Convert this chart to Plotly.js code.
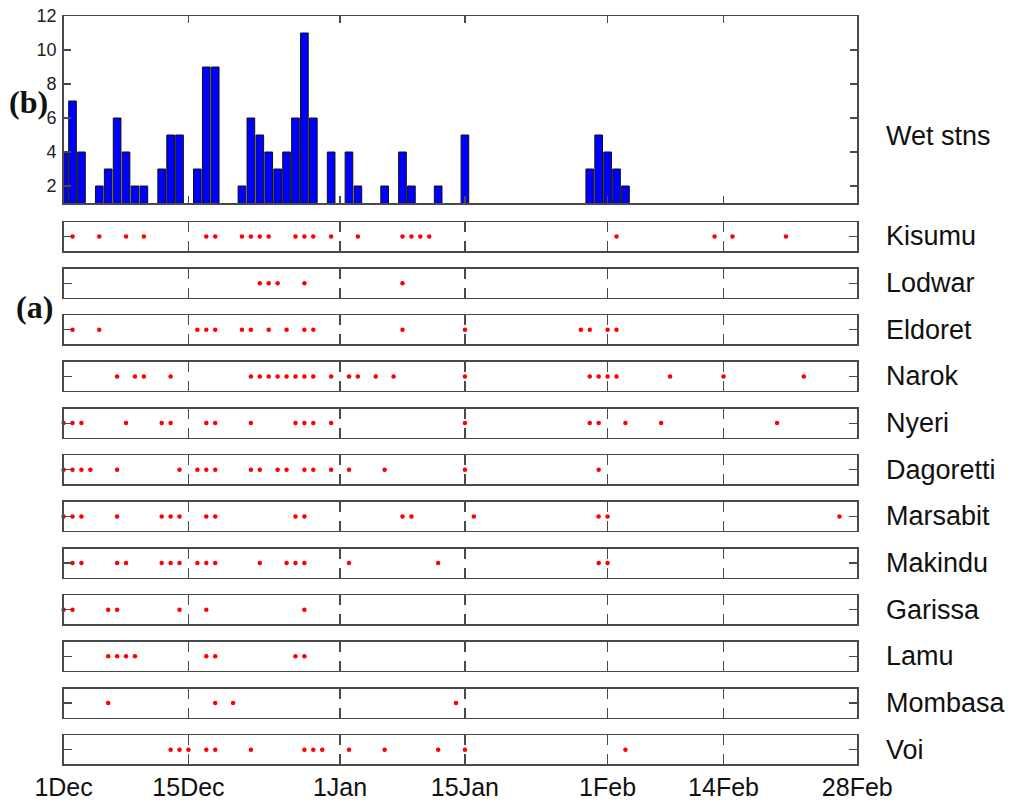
<!DOCTYPE html>
<html><head><meta charset="utf-8">
<script src="https://cdn.plot.ly/plotly-3.0.1.min.js"></script>
<style>html,body{margin:0;padding:0;background:#fff}</style>
</head><body><div id="chart" style="width:1010px;height:805px"></div>
<script>
// Day index: 1 = 1 Dec ... 90 = 28 Feb
const tickDays   = [1, 15, 32, 46, 62, 75, 90];
const tickLabels = ['1Dec', '15Dec', '1Jan', '15Jan', '1Feb', '14Feb', '28Feb'];

// (b) number of wet stations per day (days 1..90)
const wetStns = [4,7,4,1,2,3,6,4,2,2, 0,3,5,5,1,3,9,9,0,1,
                 2,6,5,4,3,4,6,11,6,1, 4,0,4,2,0,1,2,1,4,2,
                 1,1,2,0,1,5,1,0,0,0, 0,0,0,0,0,0,0,0,1,3,
                 5,4,3,2,0,0,0,1,1,0, 0,0,0,1,1,1,0,0,0,0,
                 1,1,0,1,0,0,0,1,0,0];

// (a) wet days per station (day index)
const stations = ['Kisumu','Lodwar','Eldoret','Narok','Nyeri','Dagoretti',
                  'Marsabit','Makindu','Garissa','Lamu','Mombasa','Voi'];
const kisumu    = [2,5,8,10,17,18,21,22,23,24,27,28,29,31,34,39,40,41,42,63,74,76,82];
const lodwar    = [23,24,25,28,39];
const eldoret   = [2,5,16,17,18,21,22,24,26,28,29,39,46,59,60,62,63];
const narok     = [7,9,10,13,22,23,24,25,26,27,28,29,31,33,34,36,38,46,60,61,62,63,69,75,84];
const nyeri     = [1,2,3,8,12,13,17,18,22,27,28,29,31,46,60,61,64,68,81];
const dagoretti = [1,2,3,4,7,14,16,17,18,22,23,25,26,28,29,31,33,37,46,61];
const marsabit  = [1,2,3,7,12,13,14,17,18,27,28,39,40,47,61,62,88];
const makindu   = [2,3,7,8,12,13,14,16,17,18,23,26,27,28,33,43,61,62];
const garissa   = [1,2,6,7,14,17,28];
const lamu      = [6,7,8,9,17,18,27,28];
const mombasa   = [6,18,20,45];
const voi       = [13,14,15,17,18,22,28,29,30,33,37,43,46,64];
const stationDays = [kisumu,lodwar,eldoret,narok,nyeri,dagoretti,marsabit,makindu,garissa,lamu,mombasa,voi];

const W = 1010, H = 805;
const xDom = [63.6 / W, 857.3 / W];
const yd = (top, bot) => [1 - bot / H, 1 - top / H];
const FONT = 'Liberation Sans, Arial, sans-serif';
const LINE = '#4a4a4a';
const Y_MIN = 1;

const data = [{
  type: 'bar',
  x: wetStns.map((v, i) => i + 1),
  y: wetStns,
  width: 0.86,
  marker: {color: '#0000ff',
           line: {color: '#111', width: wetStns.map(v => v > Y_MIN ? 1 : 0)}},
  xaxis: 'x', yaxis: 'y', hoverinfo: 'x+y'
}];

const layout = {
  width: W, height: H,
  margin: {l: 0, r: 0, t: 0, b: 0},
  paper_bgcolor: '#fff', plot_bgcolor: '#fff',
  showlegend: false,
  font: {family: FONT, color: '#111'},
  xaxis: {domain: xDom, range: [1, 90], tickvals: tickDays, ticktext: tickLabels,
          showticklabels: false, ticks: 'inside', ticklen: 7, tickcolor: LINE, tickwidth: 1.2,
          showline: true, linecolor: LINE, linewidth: 1.5, mirror: 'ticks',
          showgrid: false, zeroline: false, anchor: 'y'},
  yaxis: {domain: yd(16, 203), range: [Y_MIN, 12], tickvals: [2,4,6,8,10,12],
          ticks: 'inside', ticklen: 7, tickcolor: LINE, tickwidth: 1.2,
          showline: true, linecolor: LINE, linewidth: 1.5, mirror: 'ticks',
          showgrid: false, zeroline: false, anchor: 'x',
          tickfont: {size: 18, color: '#222', family: FONT}, ticklabelstandoff: 2},
  annotations: [
    {text: 'Wet stns', xref: 'paper', yref: 'paper', x: 884 / W, y: 1 - 136 / H,
     xanchor: 'left', yanchor: 'middle', showarrow: false, font: {size: 27, family: FONT, color: '#111'}},
    {text: '<b>(b)</b>', xref: 'paper', yref: 'paper', x: 7 / W, y: 1 - 102 / H,
     xanchor: 'left', yanchor: 'middle', showarrow: false,
     font: {size: 32, family: 'Liberation Serif, Times New Roman, serif', color: '#111'}},
    {text: '<b>(a)</b>', xref: 'paper', yref: 'paper', x: 14 / W, y: 1 - 307 / H,
     xanchor: 'left', yanchor: 'middle', showarrow: false,
     font: {size: 32, family: 'Liberation Serif, Times New Roman, serif', color: '#111'}}
  ]
};

stations.forEach((name, i) => {
  const n = i + 2;
  const top = 222 + i * 46.65, bot = top + 29;
  const isLast = i === stations.length - 1;
  data.push({
    type: 'scatter', mode: 'markers',
    x: stationDays[i], y: stationDays[i].map(() => 1),
    marker: {color: '#ff0000', size: 4.5, symbol: 'circle'},
    cliponaxis: false,
    xaxis: 'x' + n, yaxis: 'y' + n, name: name, hoverinfo: 'x+name'
  });
  layout['xaxis' + n] = {
    domain: xDom, range: [1, 90], tickvals: tickDays, ticktext: tickLabels,
    showticklabels: isLast, ticks: 'inside', ticklen: 10, tickcolor: LINE, tickwidth: 1.5,
    showline: true, linecolor: LINE, linewidth: 1.5, mirror: 'ticks',
    showgrid: false, zeroline: false, anchor: 'y' + n,
    tickfont: {size: 25, family: FONT, color: '#111'}, ticklabelstandoff: 0
  };
  layout['yaxis' + n] = {
    domain: yd(top, bot), range: [0, 2], tickvals: [1], showticklabels: false,
    ticks: 'inside', ticklen: 8, tickcolor: LINE, tickwidth: 1.2,
    showline: true, linecolor: LINE, linewidth: 1.5, mirror: 'ticks',
    showgrid: false, zeroline: false, anchor: 'x' + n
  };
  layout.annotations.push({
    text: name, xref: 'paper', yref: 'paper', x: 884 / W, y: 1 - (top + bot) / 2 / H,
    xanchor: 'left', yanchor: 'middle', showarrow: false,
    font: {size: 27, family: FONT, color: '#111'}
  });
});

Plotly.newPlot('chart', data, layout, {displayModeBar: false, staticPlot: true});
</script></body></html>
